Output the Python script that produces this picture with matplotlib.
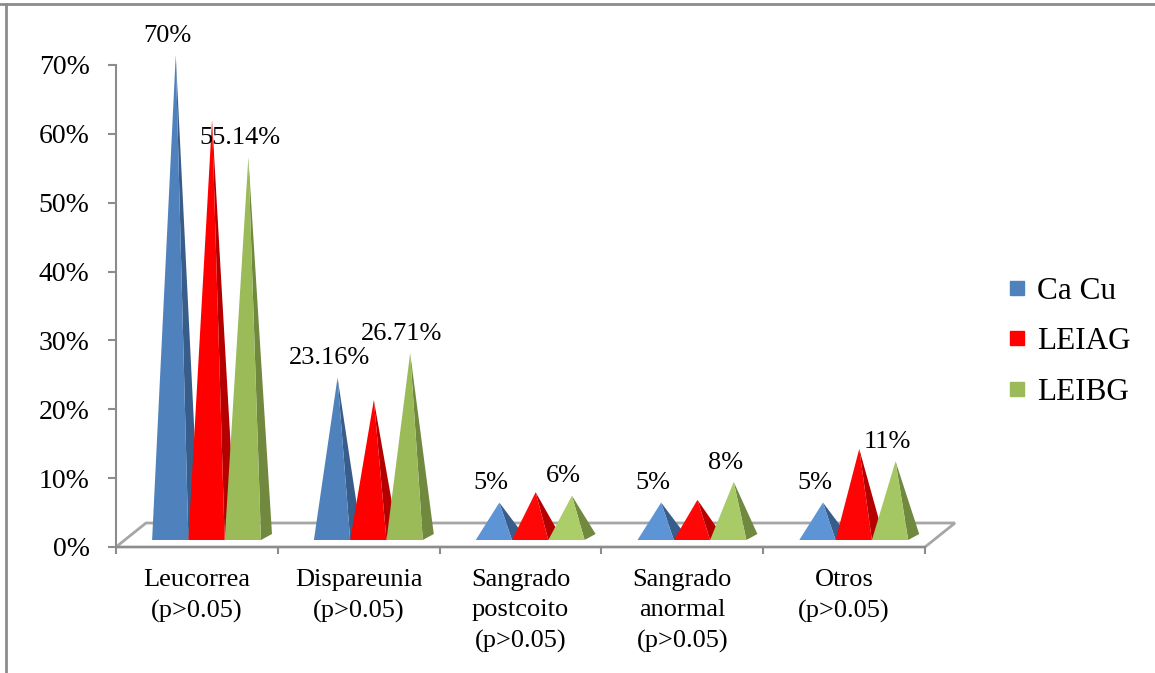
import matplotlib.pyplot as plt
from matplotlib.patches import Polygon
from matplotlib.lines import Line2D
import numpy as np

plt.rcParams['font.family'] = ['Liberation Serif', 'DejaVu Serif']

categories = ['Leucorrea\n(p>0.05)', 'Dispareunia\n(p>0.05)', 'Sangrado\npostcoito\n(p>0.05)',
              'Sangrado\nanormal\n(p>0.05)', 'Otros\n(p>0.05)']
series_names = ['Ca Cu', 'LEIAG', 'LEIBG']
ca_cu = [70, 23.16, 5, 5, 5]
leiag = [60.6, 19.9, 6.5, 5.4, 12.8]
leibg = [55.14, 26.71, 6, 8, 11]
# which series carry value labels
labelled = [True, False, True]

front_colors = ['#4F81BD', '#FF0000', '#9BBB59']
light_colors = ['#619BDD', '#FF0A0A', '#B2D670']
side_colors = ['#385D8A', '#B50000', '#71893F']

fig = plt.figure(figsize=(11.55, 6.73), dpi=100)
# axes area: x from -0.5..4.5 categories, y from 0..70 %
ax = fig.add_axes([116 / 1155, 1 - 547 / 673, 809 / 1155, 482 / 673])
ax.set_xlim(-0.5, 4.5)
ax.set_ylim(0, 70)

px_x = 5 / 809      # one pixel in x data units
px_y = 70 / 482     # one pixel in y data units

# floor of the 3d plot
floor_dx, floor_dy = 30 * px_x, 24 * px_y
floor = Polygon([(-0.5, 0), (4.5, 0), (4.5 + floor_dx, floor_dy), (-0.5 + floor_dx, floor_dy)],
                closed=True, facecolor='white', edgecolor='#A6A6A6', lw=2, clip_on=False, zorder=1)
ax.add_patch(floor)

w = 36.3 * px_x
base_y = 7 * px_y
dep_x, dep_y = 11 * px_x, 6 * px_y
group_left = -44.8 * px_x


def mix(c1, c2, t):
    a = np.array(plt.matplotlib.colors.to_rgb(c1))
    b = np.array(plt.matplotlib.colors.to_rgb(c2))
    return tuple(a * (1 - t) + b * t)


for j, vals in enumerate([ca_cu, leiag, leibg]):
    for i, v in enumerate(vals):
        xl = i + group_left + j * w
        apex = (xl + w / 2 + dep_x / 2, base_y + dep_y / 2 + v)
        t = max(0.0, 1 - v / 20)
        fc = mix(front_colors[j], light_colors[j], t)
        side = Polygon([(xl + w, base_y), (xl + w + dep_x, base_y + dep_y), apex],
                       closed=True, facecolor=side_colors[j], edgecolor='none', clip_on=False, zorder=2)
        front = Polygon([(xl, base_y), (xl + w, base_y), apex],
                        closed=True, facecolor=fc, edgecolor='none', clip_on=False, zorder=2)
        ax.add_patch(side)
        ax.add_patch(front)
        if labelled[j]:
            ax.annotate('%g%%' % v, xy=apex, xytext=(-6, 6), textcoords='offset points',
                        ha='center', va='bottom', fontsize=19, color='black', annotation_clip=False)

# axes styling
for s in ['top', 'right']:
    ax.spines[s].set_visible(False)
for s in ['left', 'bottom']:
    ax.spines[s].set_color('#8C8C8C')
    ax.spines[s].set_linewidth(1.5)
ax.set_yticks(np.arange(0, 71, 10))
ax.set_yticklabels(['%d%%' % t for t in range(0, 71, 10)])
ax.tick_params(axis='y', direction='out', length=6, width=1.5, color='#8C8C8C', pad=13, labelsize=20)
ax.set_xticks(np.arange(-0.5, 4.6, 1))
ax.set_xticklabels([])
ax.tick_params(axis='x', which='major', direction='out', length=5, width=1.5, color='#8C8C8C')
ax.set_xticks(np.arange(5), minor=True)
ax.set_xticklabels(categories, minor=True, fontsize=19, linespacing=1.47)
ax.tick_params(axis='x', which='minor', length=0, pad=16)

handles = [Line2D([], [], marker='s', linestyle='none', markersize=10, color=c) for c in front_colors]
fig.legend(handles, series_names, loc='center left', bbox_to_anchor=(0.845, 0.492), frameon=False,
           fontsize=22.5, labelspacing=0.68, handletextpad=0.25, handlelength=0.8)

# outer frame
fig.add_artist(Line2D([0, 1], [1 - 4 / 673, 1 - 4 / 673], transform=fig.transFigure, color='#8C8C8C', lw=2))
fig.add_artist(Line2D([6 / 1155, 6 / 1155], [0, 1 - 4 / 673], transform=fig.transFigure, color='#8C8C8C', lw=2))

fig.savefig('out.png', dpi=100)
